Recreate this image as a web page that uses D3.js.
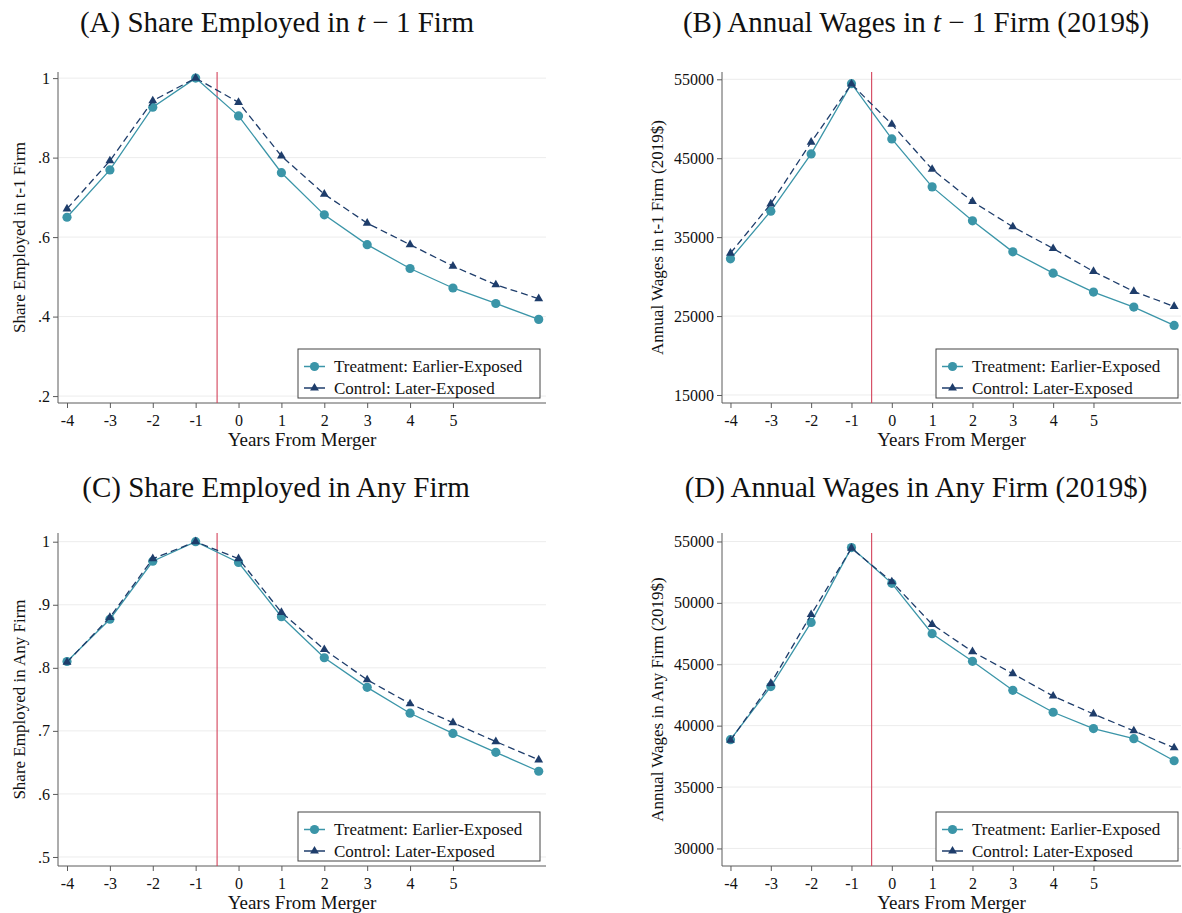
<!DOCTYPE html>
<html>
<head>
<meta charset="utf-8">
<script src="https://cdn.jsdelivr.net/npm/d3@7"></script>
<style>
  html, body { margin: 0; padding: 0; background: #ffffff; }
  svg { display: block; }
</style>
</head>
<body>
<svg id="chart" width="1182" height="913"></svg>
<script>
// ---------------- DATA ----------------
const years = [-4, -3, -2, -1, 0, 1, 2, 3, 4, 5, 6, 7];
const xTickYears = [-4, -3, -2, -1, 0, 1, 2, 3, 4, 5];
const eventLineAt = -0.5;

const seriesNames = ["Treatment: Earlier-Exposed", "Control: Later-Exposed"];

// (A) Share employed in t-1 firm
const shareT1Treatment = [0.650, 0.769, 0.927, 1.000, 0.905, 0.762, 0.656, 0.581, 0.521, 0.472, 0.433, 0.393];
const shareT1Control   = [0.671, 0.792, 0.943, 1.000, 0.939, 0.804, 0.708, 0.635, 0.581, 0.527, 0.480, 0.445];

// (B) Annual wages in t-1 firm (2019$)
const wageT1Treatment = [32250, 38290, 45550, 54450, 47450, 41370, 37070, 33140, 30440, 28040, 26140, 23820];
const wageT1Control   = [32970, 39220, 47030, 54400, 49300, 43600, 39510, 36310, 33560, 30650, 28120, 26220];

// (C) Share employed in any firm
const shareAnyTreatment = [0.810, 0.877, 0.969, 1.000, 0.967, 0.881, 0.816, 0.769, 0.728, 0.696, 0.666, 0.636];
const shareAnyControl   = [0.809, 0.880, 0.973, 1.000, 0.973, 0.888, 0.829, 0.781, 0.743, 0.713, 0.683, 0.654];

// (D) Annual wages in any firm (2019$)
const wageAnyTreatment = [38860, 43180, 48410, 54500, 51590, 47490, 45240, 42880, 41090, 39760, 38940, 37140];
const wageAnyControl   = [38810, 43440, 49050, 54450, 51720, 48250, 46030, 44230, 42410, 40950, 39580, 38200];

// Tick values and labels
const yTicksShareT1 = [0.2, 0.4, 0.6, 0.8, 1.0];
const yLabelsShareT1 = [".2", ".4", ".6", ".8", "1"];
const yTicksWageT1 = [15000, 25000, 35000, 45000, 55000];
const yLabelsWageT1 = ["15000", "25000", "35000", "45000", "55000"];
const yTicksShareAny = [0.5, 0.6, 0.7, 0.8, 0.9, 1.0];
const yLabelsShareAny = [".5", ".6", ".7", ".8", ".9", "1"];
const yTicksWageAny = [30000, 35000, 40000, 45000, 50000, 55000];
const yLabelsWageAny = ["30000", "35000", "40000", "45000", "50000", "55000"];

// ---------------- STYLE / LAYOUT ----------------
const TEAL = "#3b95a8";
const NAVY = "#1e3d6b";
const RED = "#d4425a";
const AXIS = "#5a5a5a";
const GRID = "#ececec";
const TICKFONT = "'Liberation Serif', 'DejaVu Serif', serif";
const TITLEFONT = "'Liberation Serif', 'DejaVu Serif', serif";

const panels = [
  { title: ["(A) Share Employed in ", "t", " − 1 Firm"], ytitle: "Share Employed in t-1 Firm",
    treat: shareT1Treatment, ctrl: shareT1Control, yTicks: yTicksShareT1, yLabels: yLabelsShareT1,
    yDomain: [0.1826, 1.0154],
    left: 58, right: 546, top: 72, bottom: 403, titleX: 277, titleY: 22, ytitleX: 19,
    legend: { x: 298, y: 349, w: 242, h: 49 } },
  { title: ["(B) Annual Wages in ", "t", " − 1 Firm (2019$)"], ytitle: "Annual Wages in t-1 Firm (2019$)",
    treat: wageT1Treatment, ctrl: wageT1Control, yTicks: yTicksWageT1, yLabels: yLabelsWageT1,
    yDomain: [13986, 55925],
    left: 722, right: 1181, top: 72, bottom: 403, titleX: 916, titleY: 22, ytitleX: 657,
    legend: { x: 936, y: 349, w: 242, h: 49 } },
  { title: ["(C) Share Employed in Any Firm"], ytitle: "Share Employed in Any Firm",
    treat: shareAnyTreatment, ctrl: shareAnyControl, yTicks: yTicksShareAny, yLabels: yLabelsShareAny,
    yDomain: [0.4857, 1.0138],
    left: 58, right: 546, top: 533, bottom: 866, titleX: 276, titleY: 487, ytitleX: 19,
    legend: { x: 298, y: 812, w: 242, h: 49 } },
  { title: ["(D) Annual Wages in Any Firm (2019$)"], ytitle: "Annual Wages in Any Firm (2019$)",
    treat: wageAnyTreatment, ctrl: wageAnyControl, yTicks: yTicksWageAny, yLabels: yLabelsWageAny,
    yDomain: [28570, 55690],
    left: 722, right: 1181, top: 533, bottom: 866, titleX: 916, titleY: 487, ytitleX: 657,
    legend: { x: 936, y: 812, w: 242, h: 49 } }
];

const svg = d3.select("#chart");

panels.forEach(p => {
  const g = svg.append("g");
  const x = d3.scaleLinear()
    .domain([-4.21, 7.17])
    .range([p.left, p.right]);
  const y = d3.scaleLinear().domain(p.yDomain).range([p.bottom, p.top]);

  // Title
  const t = g.append("text")
    .attr("x", p.titleX).attr("y", p.titleY)
    .attr("text-anchor", "middle").attr("dominant-baseline", "central")
    .style("font-family", TITLEFONT).style("font-size", "29px").style("fill", "#111");
  p.title.forEach((s, i) => {
    t.append("tspan").text(s).style("font-style", (p.title.length === 3 && i === 1) ? "italic" : "normal");
  });

  // Gridlines
  g.append("g").selectAll("line").data(p.yTicks).join("line")
    .attr("x1", p.left + 1).attr("x2", p.right)
    .attr("y1", d => y(d)).attr("y2", d => y(d))
    .attr("stroke", GRID).attr("stroke-width", 1);

  // Y axis
  const yAxis = d3.axisLeft(y).tickValues(p.yTicks)
    .tickFormat((d, i) => p.yLabels[i]).tickSize(5).tickPadding(3);
  const ya = g.append("g").attr("transform", `translate(${p.left},0)`).call(yAxis);
  ya.select(".domain").attr("d", `M0,${p.top}V${p.bottom}`).attr("stroke", AXIS);
  ya.selectAll(".tick line").attr("stroke", AXIS);
  ya.selectAll(".tick text").style("font-family", TICKFONT).style("font-size", "16px").attr("fill", "#111");

  // X axis
  const xAxis = d3.axisBottom(x).tickValues(xTickYears)
    .tickFormat(d => d3.format("d")(d).replace("−", "-")).tickSize(5).tickPadding(7);
  const xa = g.append("g").attr("transform", `translate(0,${p.bottom})`).call(xAxis);
  xa.select(".domain").attr("d", `M${p.left},0H${p.right}`).attr("stroke", AXIS);
  xa.selectAll(".tick line").attr("stroke", AXIS);
  xa.selectAll(".tick text").style("font-family", TICKFONT).style("font-size", "16px").attr("fill", "#111");

  // X axis title
  g.append("text")
    .attr("x", (p.left + p.right) / 2).attr("y", p.bottom + 36)
    .attr("text-anchor", "middle").attr("dominant-baseline", "central")
    .style("font-family", TICKFONT).style("font-size", "19px").style("fill", "#111")
    .text("Years From Merger");

  // Y axis title
  g.append("text")
    .attr("transform", `translate(${p.ytitleX},${(p.top + p.bottom) / 2}) rotate(-90)`)
    .attr("text-anchor", "middle").attr("dominant-baseline", "central")
    .style("font-family", TICKFONT).style("font-size", "17px").style("fill", "#111")
    .text(p.ytitle);

  // Event line
  g.append("line")
    .attr("x1", x(eventLineAt)).attr("x2", x(eventLineAt))
    .attr("y1", p.top).attr("y2", p.bottom)
    .attr("stroke", RED).attr("stroke-width", 1.1);

  const line = d3.line().x((d, i) => x(years[i])).y(d => y(d));

  // Treatment
  g.append("path").datum(p.treat).attr("d", line)
    .attr("fill", "none").attr("stroke", TEAL).attr("stroke-width", 1.3);
  g.append("g").selectAll("circle").data(p.treat).join("circle")
    .attr("cx", (d, i) => x(years[i])).attr("cy", d => y(d)).attr("r", 4.6)
    .attr("fill", TEAL);

  // Control
  g.append("path").datum(p.ctrl).attr("d", line)
    .attr("fill", "none").attr("stroke", NAVY).attr("stroke-width", 1.3)
    .attr("stroke-dasharray", "7,4");
  const tri = d3.symbol().type(d3.symbolTriangle).size(34);
  g.append("g").selectAll("path").data(p.ctrl).join("path")
    .attr("d", tri)
    .attr("transform", (d, i) => `translate(${x(years[i])},${y(d)})`)
    .attr("fill", NAVY);

  // Legend
  const L = p.legend;
  const lg = g.append("g").attr("transform", `translate(${L.x},${L.y})`);
  lg.append("rect").attr("width", L.w).attr("height", L.h)
    .attr("fill", "#fff").attr("stroke", "#444").attr("stroke-width", 1);
  const rows = [
    { name: seriesNames[0], color: TEAL, sym: "circle", yy: 17.5 },
    { name: seriesNames[1], color: NAVY, sym: "triangle", yy: 39 }
  ];
  rows.forEach(r => {
    lg.append("line").attr("x1", 6).attr("x2", 27).attr("y1", r.yy).attr("y2", r.yy)
      .attr("stroke", r.color).attr("stroke-width", 1.5);
    if (r.sym === "circle") {
      lg.append("circle").attr("cx", 16.5).attr("cy", r.yy).attr("r", 4.6).attr("fill", r.color);
    } else {
      lg.append("path").attr("d", tri).attr("transform", `translate(16.5,${r.yy})`).attr("fill", r.color);
    }
    lg.append("text").attr("x", 36).attr("y", r.yy).attr("dominant-baseline", "central")
      .style("font-family", TICKFONT).style("font-size", "17px").style("fill", "#111")
      .text(r.name);
  });
});
</script>
</body>
</html>
